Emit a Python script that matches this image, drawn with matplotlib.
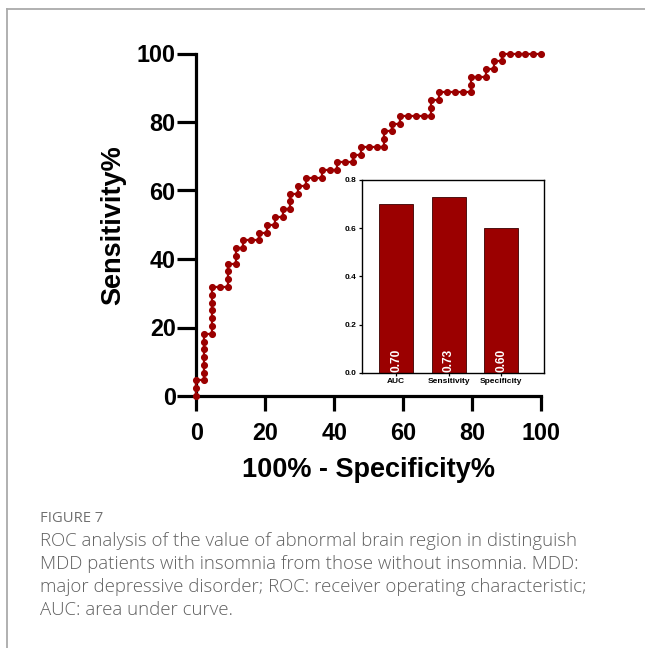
import matplotlib
matplotlib.use("Agg")
import matplotlib.pyplot as plt
from matplotlib.lines import Line2D

# ROC curve points (100% - Specificity%, Sensitivity%)
fpr = [0.00, 0.00, 0.00,
       2.27, 2.27, 2.27, 2.27, 2.27, 2.27, 2.27,
       4.55, 4.55, 4.55, 4.55, 4.55, 4.55, 4.55,
       6.82,
       9.09, 9.09, 9.09, 9.09,
       11.36, 11.36, 11.36,
       13.64, 13.64,
       15.91,
       18.18, 18.18,
       20.45, 20.45,
       22.73, 22.73,
       25.00, 25.00,
       27.27, 27.27, 27.27,
       29.55, 29.55,
       31.82, 31.82,
       34.09,
       36.36, 36.36,
       38.64,
       40.91, 40.91,
       43.18,
       45.45, 45.45,
       47.73, 47.73,
       50.00, 52.27,
       54.55, 54.55, 54.55,
       56.82, 56.82,
       59.09, 59.09,
       61.36, 63.64, 65.91,
       68.18, 68.18, 68.18,
       70.45, 70.45,
       72.73, 75.00, 77.27,
       79.55, 79.55, 79.55,
       81.82,
       84.09, 84.09,
       86.36, 86.36,
       88.64, 88.64,
       90.91, 93.18, 95.45, 97.73, 100.00]
tpr = [0.00, 2.27, 4.55,
       4.55, 6.82, 9.09, 11.36, 13.64, 15.91, 18.18,
       18.18, 20.45, 22.73, 25.00, 27.27, 29.55, 31.82,
       31.82,
       31.82, 34.09, 36.36, 38.64,
       38.64, 40.91, 43.18,
       43.18, 45.45,
       45.45,
       45.45, 47.73,
       47.73, 50.00,
       50.00, 52.27,
       52.27, 54.55,
       54.55, 56.82, 59.09,
       59.09, 61.36,
       61.36, 63.64,
       63.64,
       63.64, 65.91,
       65.91,
       65.91, 68.18,
       68.18,
       68.18, 70.45,
       70.45, 72.73,
       72.73, 72.73,
       72.73, 75.00, 77.27,
       77.27, 79.55,
       79.55, 81.82,
       81.82, 81.82, 81.82,
       81.82, 84.09, 86.36,
       86.36, 88.64,
       88.64, 88.64, 88.64,
       88.64, 90.91, 93.18,
       93.18,
       93.18, 95.45,
       95.45, 97.73,
       97.73, 100.00,
       100.00, 100.00, 100.00, 100.00, 100.00]

main_ticks = [0, 20, 40, 60, 80, 100]

# Inset bar chart
bar_labels = ["AUC", "Sensitivity", "Specificity"]
bar_values = [0.70, 0.73, 0.60]
bar_texts = ["0.70", "0.73", "0.60"]
inset_ticks = [0.0, 0.2, 0.4, 0.6, 0.8]

caption_title = "FIGURE 7"
caption_lines = [
    "ROC analysis of the value of abnormal brain region in distinguish",
    "MDD patients with insomnia from those without insomnia. MDD:",
    "major depressive disorder; ROC: receiver operating characteristic;",
    "AUC: area under curve.",
]

RED = "#9b0000"
W, H = 645, 648
fig = plt.figure(figsize=(W / 100, H / 100), dpi=100)
fig.patch.set_facecolor("white")

FONT = ["Liberation Sans", "DejaVu Sans"]

def fx(px):
    return px / W

def fy(py):
    return 1 - py / H

# main axes
x0, x1 = 196.5, 541.0
y0, y1 = 396.0, 53.5
ax = fig.add_axes([fx(x0), fy(y0), fx(x1) - fx(x0), fy(y1) - fy(y0)])
ax.plot(fpr, tpr, color=RED, lw=1.6, marker="o", ms=4.1, mec=RED, mfc=RED,
        clip_on=False, zorder=3)
ax.set_xlim(0, 100)
ax.set_ylim(0, 100)
ax.set_xticks(main_ticks)
ax.set_yticks(main_ticks)
for s in ["top", "right"]:
    ax.spines[s].set_visible(False)
for s in ["left", "bottom"]:
    ax.spines[s].set_linewidth(2.3)
    ax.spines[s].set_capstyle("projecting")
ax.tick_params(axis="y", length=14, width=2.3, pad=1, labelsize=16.8)
ax.tick_params(axis="x", length=10.5, width=2.3, pad=8, labelsize=16.8)
for lab in ax.get_xticklabels() + ax.get_yticklabels():
    lab.set_fontweight("bold")
    lab.set_fontfamily(FONT)
ax.set_xlabel("100% - Specificity%", fontsize=19.5, fontweight="bold",
              family=FONT, labelpad=10)
ax.set_ylabel("Sensitivity%", fontsize=19.5, fontweight="bold",
              family=FONT, labelpad=8)
ax.xaxis.set_label_coords(0.5, (fy(470) - fy(y0)) / (fy(y1) - fy(y0)))
ax.xaxis.label.set_va("center")
ax.yaxis.set_label_coords((fx(113) - fx(x0)) / (fx(x1) - fx(x0)), 0.5)
ax.yaxis.label.set_va("center")

# inset axes
ix0, ix1 = 361.7, 544.0
iy0, iy1 = 372.7, 180.0
ins = fig.add_axes([fx(ix0), fy(iy0), fx(ix1) - fx(ix0), fy(iy1) - fy(iy0)])
pos = list(range(len(bar_labels)))
ins.bar(pos, bar_values, width=0.65, color=RED, edgecolor="#3a0000",
        linewidth=0.6, zorder=2)
ins.set_xlim(-0.66, 2.82)
ins.set_ylim(0, 0.8)
ins.set_yticks(inset_ticks)
ins.set_yticklabels([f"{v:.1f}" for v in inset_ticks])
ins.set_xticks(pos)
ins.set_xticklabels(bar_labels)
for s in ins.spines.values():
    s.set_linewidth(1.0)
ins.tick_params(axis="both", length=2.5, width=0.9, pad=1.5, labelsize=6)
for lab in ins.get_xticklabels() + ins.get_yticklabels():
    lab.set_fontweight("bold")
    lab.set_fontfamily(FONT)
for p, t in zip(pos, bar_texts):
    ins.text(p, 0.004, t, rotation=90, ha="center", va="bottom",
             color="white", fontsize=8.6, family=FONT, fontweight="bold",
             zorder=3)

# frame lines
fig.add_artist(Line2D([fx(6.5), 1.0], [fy(9), fy(9)], color="#aaaaaa",
                      lw=1.3, transform=fig.transFigure))
fig.add_artist(Line2D([fx(6.5), fx(6.5)], [fy(9), 0.0], color="#aaaaaa",
                      lw=1.3, transform=fig.transFigure))

# caption
CAP = ["Open Sans", "DejaVu Sans"]
fig.text(fx(40), fy(519), caption_title, fontsize=10.6, color="#707070",
         family=CAP, va="center", ha="left")
for i, line in enumerate(caption_lines):
    fig.text(fx(40), fy(541 + 23 * i), line, fontsize=13.4, color="#606060",
             family=CAP, fontweight="light", va="center", ha="left")

fig.savefig("out.png", dpi=100, facecolor="white")
